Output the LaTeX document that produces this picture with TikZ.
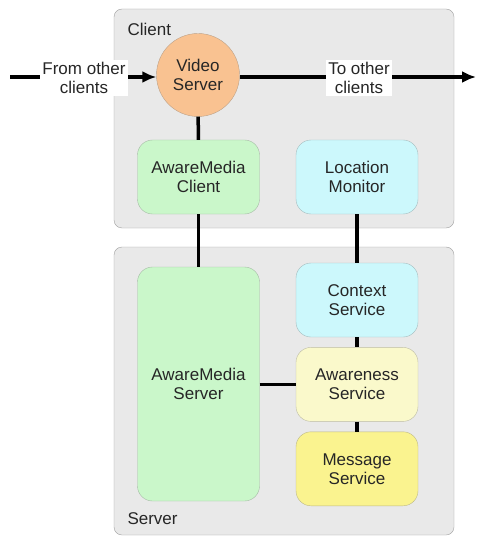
\documentclass[tikz,border=0pt]{standalone}
\usepackage{fontspec}
\setmainfont{Liberation Sans}
\usetikzlibrary{positioning,arrows.meta}

\definecolor{areagray}{HTML}{E9E9E9}
\definecolor{videoorange}{HTML}{F9C291}
\definecolor{mediagreen}{HTML}{CAF7CA}
\definecolor{contextcyan}{HTML}{CCF8FC}
\definecolor{awarecream}{HTML}{FAF9CB}
\definecolor{messageyellow}{HTML}{FAF38F}

\begin{document}
\begin{tikzpicture}[x=1pt,y=-1pt,
    every node/.style={font=\fontsize{17}{19}\selectfont,align=center,text=black!85},
    area/.style={draw=gray!75,fill=areagray,rounded corners=8pt,inner sep=0pt},
    comp/.style={draw=#1!50!gray,fill=#1,rounded corners=15pt,minimum width=122pt,minimum height=74pt},
    link/.style={line width=3.5pt},
    flow/.style={line width=3.5pt,-{Latex[length=14pt,width=12pt]}},
    tag/.style={fill=white,inner sep=2pt}]
    \useasboundingbox (0,0) rectangle (476,537);

    % Client and server areas
    \node[area,minimum width=340pt,minimum height=219pt] (client) at (284,118.5) {};
    \node[area,minimum width=340pt,minimum height=288pt] (server) at (284,391) {};
    \node[anchor=west] (clientlbl) at (124,29) {Client};
    \node[anchor=west] (serverlbl) at (124,519) {Server};

    % Client side
    \node[circle,draw=videoorange!50!gray,fill=videoorange,minimum size=83pt,inner sep=0pt] (vs) at (198,75) {Video\\Server};
    \node[comp=mediagreen] (amc) at (198.5,177) {AwareMedia\\Client};
    \node[comp=contextcyan] (lm) at (357,177) {Location\\Monitor};

    % Server side
    \node[comp=mediagreen,minimum height=234pt] (ams) at (198.5,384) {AwareMedia\\Server};
    \node[comp=contextcyan] (cs) at (357,300) {Context\\Service};
    \node[comp=awarecream,below=10pt of cs] (as) {Awareness\\Service};
    \node[comp=messageyellow,below=10pt of as] (ms) {Message\\Service};

    % Streams in and out
    \coordinate (src) at (10,77);
    \coordinate (dst) at (476,77);
    \draw[flow] (src) -- (vs.west |- src);
    \draw[flow] (vs.east |- dst) -- (dst);
    \node[tag] (fromlbl) at (84,78) {From other\\clients};
    \node[tag] (tolbl) at (359,78) {To other\\clients};

    \draw[link] (vs) -- (amc);
    \draw[link] (amc) -- (ams);
    \draw[link] (lm) -- (cs);
    \draw[link] (cs) -- (as);
    \draw[link] (as) -- (ms);
    \draw[link] (ams.east |- as) -- (as.west);
\end{tikzpicture}
\end{document}
